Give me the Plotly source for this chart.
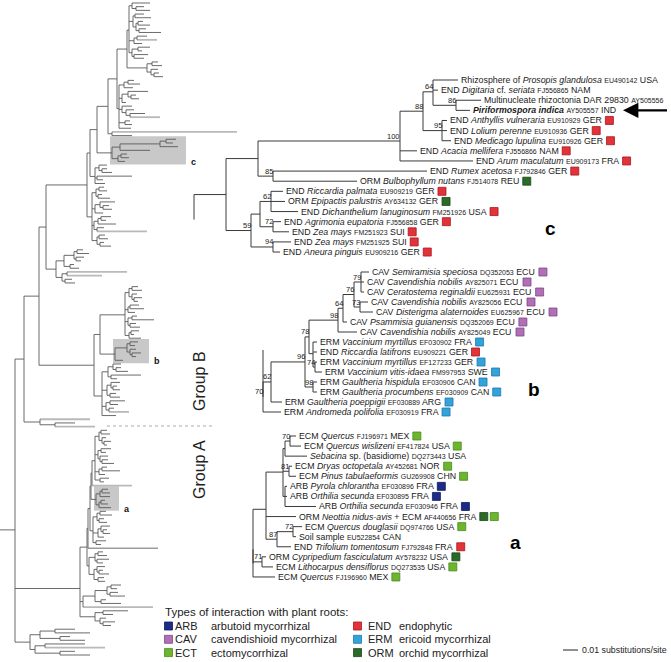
import plotly.graph_objects as go

FONT = "Liberation Sans, Arial, sans-serif"
W, H = 671, 662

# ---------------- DATA ----------------
# Overview tree pieces (Newick, branch lengths in tree units; tips named g = grey-highlighted branch)
ov_T1 = "((:18,(:8,:14):4):3,((:9,:16):2,((:5,:12):2,(:7,:22):3):3):4,((:10,g:20):3,:8):5,((:12,:4):6,(:14,:10):2):3)"
ov_T2 = "((:6,:10):5,(:7,(:5,:9):3):4)"
ov_T3 = "(((:6,:12):4,:9):5,((:20,(:5,:8):3):6,:4):3,(:10,(:8,(:15,g:30):4):4):3,(:5,:7):6,:12)"
ov_LONG = "(g:125,:20)"
ov_C = "((((:10,:7):6,:18):40,:30):8,((:6,:8):3,:7):6)C"
ov_M1 = "((:8,(:5,:10):3):4,(:35,:6):2,:10)"
ov_M2 = "(((:5,:8):3,(:4,:12):2):4,((:15,(:6,:9):3):5,:8):3,(((:10,:5):3,:18):4,(:7,g:50):3):2,((:6,:9):2,(:4,:11):3):5)"
ov_M3 = "((((:6,:12):3,(:8,:5):2):10,(:4,:9):6):8,((g:60,g:35):5,(:7,:10):3):6)"
ov_BL1 = "(((:6,:10):3,(:5,(:8,:4):2):3):4,((:9,:14):2,:7):3,((:5,:22):4,(:6,:10):2):3,((:8,:3):2,:12):4)"
ov_Bb = "(((:8,:5):3,(:6,(:9,:4):2):3):12,:8)B"
ov_BL2 = "(((:8,(:5,:12):3):5,(:30,:6):3):6,((:9,(:4,:7):2):4,(:6,:10):3):5,((:15,:8):4,(:5,g:20):3):4,:14)"
ov_BBAS = "(g:50,(:20,g:40):15)"
ov_A1 = "(((:6,:9):2,(:4,(:7,:3):2):3):4,((:10,:5):3,(:8,(:6,:12):2):2):3,((:5,:18):3,:6):4,(:9,:4):5)"
ov_Aa = "(((:6,:8):2,:10):4,((:4,:7):2,:12):3)A"
ov_A2 = "(((:6,:12):3,(:5,:8):2):4,((:9,(:4,:7):2):3,:6):5,(:10,:5):3)"
ov_A3 = "(((:5,:9):3,(:12,:6):2):6,((:8,(:4,:10):2):3,(:6,:7):4):5)"
ov_A4 = "(((:10,:6):4,(:8,:15):3):12,(:5,:20):6)"
ov_A5 = "((:25,:10):8,(:6,(:12,:8):3):5)"
ov_GAbas = "(((:20,:35):15,(:10,:25):20):10,((:40,g:60):10,(:15,:30):25):5)"

# Clade c (magnified), bootstrap support as internal labels
clade_c = ("(((((c1:25,c2:5,(c3:25,c4:14)86:23)64:10,(c5:5,c6:5,c7:9)95:19)88:23,c8:17,c9:73)100:142,"
           "(c10:154,c11:84)85:15):32,(((c12:12,c13:14,c14:27)62:11,(c15:8,c16:16)72:13):9,"
           "(c17:18,c18:7)94:22)59:25):32;")
c_kind = ["Rhizosphere of", "END", "", "", "END", "END", "END", "END", "END", "END", "ORM", "END",
          "ORM", "END", "END", "END", "END", "END"]
c_host = ["<i>Prosopis glandulosa</i>", "<i>Digitaria</i> cf. <i>seriata</i>",
          "Multinucleate rhizoctonia DAR 29830", "<b><i>Piriformospora indica</i></b>",
          "<i>Anthyllis vulneraria</i>", "<i>Lolium perenne</i>", "<i>Medicago lupulina</i>",
          "<i>Acacia mellifera</i>", "<i>Arum maculatum</i>", "<i>Rumex acetosa</i>",
          "<i>Bulbophyllum nutans</i>", "<i>Riccardia palmata</i>", "<i>Epipactis palustris</i>",
          "<i>Dichanthelium lanuginosum</i>", "<i>Agrimonia eupatoria</i>", "<i>Zea mays</i>",
          "<i>Zea mays</i>", "<i>Aneura pinguis</i>"]
c_acc = ["EU490142", "FJ556865", "AY505556", "AY505557", "EU910929", "EU910936", "EU910926",
         "FJ556866", "EU909173", "FJ792846", "FJ514078", "EU909219", "AY634132", "FM251926",
         "FJ556858", "FM251923", "FM251925", "EU909216"]
c_site = ["USA", "NAM", "", "IND", "GER", "GER", "GER", "NAM", "FRA", "GER", "REU", "GER", "GER",
          "USA", "GER", "SUI", "SUI", "GER"]
c_marks = ["", "", "", "", "END", "END", "END", "END", "END", "END", "ORM", "END", "ORM", "END",
           "END", "END", "END", "END"]

# Clade b
clade_b = ("((((((((b1:8,b2:3,b3:3)79:7,(b4:8,b5:13)73:6)76:11,b6:4)64:5,b7:19)98:29,"
           "(b8:4,b9:4,(b10:2,b11:7)74:2):4)78:4,(b12:4,b13:4)98:8)96:34,b14:11)62:8,b15:18)70;")
b_kind = ["CAV"] * 7 + ["ERM", "END", "ERM", "ERM", "ERM", "ERM", "ERM", "ERM"]
b_host = ["<i>Semiramisia speciosa</i>", "<i>Cavendishia nobilis</i>", "<i>Ceratostema reginaldii</i>",
          "<i>Cavendishia nobilis</i>", "<i>Disterigma alaternoides</i>", "<i>Psammisia guianensis</i>",
          "<i>Cavendishia nobilis</i>", "<i>Vaccinium myrtillus</i>", "<i>Riccardia latifrons</i>",
          "<i>Vaccinium myrtillus</i>", "<i>Vaccinium vitis-idaea</i>", "<i>Gaultheria hispidula</i>",
          "<i>Gaultheria procumbens</i>", "<i>Gaultheria poeppigii</i>", "<i>Andromeda polifolia</i>"]
b_acc = ["DQ352053", "AY825071", "EU625931", "AY825056", "EU625967", "DQ352069", "AY825049",
         "EF030902", "EU909221", "EF127233", "FM997953", "EF030906", "EF030909", "EF030889", "EF030919"]
b_site = ["ECU"] * 7 + ["FRA", "GER", "GER", "SWE", "CAN", "CAN", "ARG", "FRA"]
b_marks = ["CAV"] * 7 + ["ERM", "END", "ERM", "ERM", "ERM", "ERM", "ERM", "ERM"]

# Clade a
clade_a = ("(((((a1:6,a2:11)70:5,a3:22):2,(a4:3,a5:7)81:6,(a6:2,a7:2,a8:31):2):17,a9:30,"
           "((a10:9,a11:3)72:16,a12:14)87:11):13,(a13:4,a14:11)71:9,a15:22);")
a_kind = ["ECM", "ECM", "", "ECM", "ECM", "ARB", "ARB", "ARB", "ORM", "ECM", "", "END", "ORM", "ECM", "ECM"]
a_host = ["<i>Quercus</i>", "<i>Quercus wislizeni</i>", "<i>Sebacina</i> sp. (basidiome)",
          "<i>Dryas octopetala</i>", "<i>Pinus tabulaeformis</i>", "<i>Pyrola chlorantha</i>",
          "<i>Orthilia secunda</i>", "<i>Orthilia secunda</i>", "<i>Neottia nidus-avis</i> + ECM",
          "<i>Quercus douglasii</i>", "Soil sample", "<i>Trifolium tomentosum</i>",
          "<i>Cypripedium fasciculatum</i>", "<i>Lithocarpus densiflorus</i>", "<i>Quercus</i>"]
a_acc = ["FJ196971", "EF417824", "DQ273443", "AY452681", "GU269908", "EF030896", "EF030895",
         "EF030946", "AF440656", "DQ974766", "EU522854", "FJ792848", "AY578232", "DQ273535", "FJ196960"]
a_site = ["MEX", "USA", "USA", "NOR", "CHN", "FRA", "FRA", "FRA", "FRA", "USA", "CAN", "FRA", "USA", "USA", "MEX"]
a_marks = ["ECM", "ECM", "", "ECM", "ECM", "ARB", "ARB", "ARB", "ORM+ECM", "ECM", "", "END", "ORM", "ECM", "ECM"]

# Legend
legend_codes = ["ARB", "CAV", "ECT", "END", "ERM", "ORM"]
legend_desc = ["arbutoid mycorrhizal", "cavendishioid mycorrhizal", "ectomycorrhizal",
               "endophytic", "ericoid mycorrhizal", "orchid mycorrhizal"]
type_colors = {"ARB": "#1c2c86", "CAV": "#b06fb6", "ECT": "#6cb52e", "ECM": "#6cb52e",
               "END": "#e2333b", "ERM": "#33a4db", "ORM": "#2c6a28"}
edge_colors = {"ARB": "#101a5a", "CAV": "#7e4a84", "ECT": "#4a8a1c", "ECM": "#4a8a1c",
               "END": "#a8161d", "ERM": "#1f77a8", "ORM": "#1a4518"}
scale_label = "0.01 substitutions/site"

MAIN_FS, ACC_FS = 8.8, 7.0

# Helvetica / Arial advance widths (1/1000 em) used to place the colour squares after each label
_W = {" ": 278, "(": 333, ")": 333, "+": 584, "-": 333, ".": 278, ":": 278}
for _c in "0123456789":
    _W[_c] = 556
_W.update(dict(zip("ABCDEFGHIJKLMNOPQRSTUVWXYZ",
                   [667, 667, 722, 722, 667, 611, 778, 722, 278, 500, 667, 556, 833, 722, 778, 667, 778,
                    722, 667, 611, 722, 667, 944, 667, 667, 611])))
_W.update(dict(zip("abcdefghijklmnopqrstuvwxyz",
                   [556, 556, 500, 556, 556, 278, 556, 556, 222, 222, 500, 222, 833, 556, 556, 556, 556,
                    333, 500, 278, 556, 500, 722, 500, 500, 500])))


def text_w(s, fs):
    import re
    s = re.sub(r"<[^>]+>", "", s)
    return sum(_W.get(ch, 556) for ch in s) * fs / 1000.0


# ---------------- TREE HELPERS ----------------
def parse_newick(s):
    s = "".join(s.split()).rstrip(";")
    pos = 0

    def node():
        nonlocal pos
        n = {"children": [], "name": "", "len": 0.0}
        if s[pos] == "(":
            pos += 1
            while True:
                n["children"].append(node())
                if s[pos] == ",":
                    pos += 1
                    continue
                if s[pos] == ")":
                    pos += 1
                    break
        st = pos
        while pos < len(s) and s[pos] not in ",():":
            pos += 1
        n["name"] = s[st:pos]
        if pos < len(s) and s[pos] == ":":
            pos += 1
            st = pos
            while pos < len(s) and s[pos] not in ",()":
                pos += 1
            n["len"] = float(s[st:pos])
        return n

    return node()


def count_tips(n):
    return 1 if not n["children"] else sum(count_tips(c) for c in n["children"])


def layout(root, x0, k, y0, dy):
    tips = []

    def rec(n, px):
        n["x"] = px + n["len"] * k
        n["px"] = px
        if not n["children"]:
            n["y"] = y0 + len(tips) * dy
            tips.append(n)
        else:
            for c in n["children"]:
                rec(c, n["x"])
            n["y"] = sum(c["y"] for c in n["children"]) / len(n["children"])

    rec(root, x0)
    return tips


def walk(n):
    yield n
    for c in n["children"]:
        yield from walk(c)


def segs(root, grey_tips=False):
    main_x, main_y, g_x, g_y = [], [], [], []
    for n in walk(root):
        tx, ty = (g_x, g_y) if (grey_tips and not n["children"] and n["name"] == "g") else (main_x, main_y)
        if n["x"] > n["px"]:
            tx += [n["px"], n["x"], None]
            ty += [n["y"], n["y"], None]
        if n["children"]:
            ys = [c["y"] for c in n["children"]]
            main_x += [n["x"], n["x"], None]
            main_y += [min(ys), max(ys), None]
    return main_x, main_y, g_x, g_y


def find(root, name):
    for n in walk(root):
        if n["name"] == name:
            return n


def extent(n):
    xs = [m["x"] for m in walk(n)]
    ys = [m["y"] for m in walk(n)]
    return min(xs), max(xs), min(ys), max(ys)


# ---------------- BUILD OVERVIEW ----------------
n127 = f"({ov_T1}:2,{ov_T2}:20)"
n117 = f"({n127}:10,{ov_T3}:2)"
n108 = f"({n117}:9,{ov_LONG}:4)"
n97 = f"({n108}:11,{ov_C}:15)"
n90 = f"({n97}:7,{ov_M1}:5)"
n87 = f"({n90}:3,{ov_M2}:5)"
n46 = f"({n87}:41,{ov_M3}:10)"
blow = f"(({ov_BL1}:25,{ov_Bb}:15):6,{ov_BL2}:8)"
n39 = f"({n46}:7,{blow}:55)"
n24 = f"({n39}:15,{ov_BBAS}:16)"
g1 = f"({ov_A1}:3,g:40)"
g2 = f"({g1}:1,{ov_Aa}:5)"
g3 = f"({g2}:1,{ov_A2}:3)"
g4 = f"({g3}:2,:70)"
gtop = f"({g4}:1,{ov_A3}:2)"
gmain = f"({gtop}:7,({ov_A4}:12,g:70):3,{ov_A5}:15)"
overview_newick = f"({n24}:9,{gmain}:65,{ov_GAbas}:15):15;"

ov = parse_newick(overview_newick)
nt = count_tips(ov)
layout(ov, 0, 1.0, 3, (655 - 3) / (nt - 1))

fig = go.Figure()
shapes, annots = [], []

# highlight boxes in overview
for nm, lab in [("C", "c"), ("B", "b"), ("A", "a")]:
    nd = find(ov, nm)
    x0, x1, y0, y1 = extent(nd)
    shapes.append(dict(type="rect", xref="x", yref="y", x0=x0 - 2, x1=x1 + 8, y0=y0 - 3, y1=y1 + 3,
                       fillcolor="#c8c8c8", line=dict(width=0), layer="below"))
    annots.append(dict(x=x1 + 13, y=y1 + 1, text=f"<b>{lab}</b>", showarrow=False, xanchor="left",
                       yanchor="middle", font=dict(size=9, color="#111", family=FONT)))

mx, my, gx, gy = segs(ov, grey_tips=True)
fig.add_trace(go.Scatter(x=gx, y=gy, mode="lines", line=dict(color="#b9b9b9", width=1.8), hoverinfo="skip"))
fig.add_trace(go.Scatter(x=mx, y=my, mode="lines", line=dict(color="#5a5a5a", width=0.9), hoverinfo="skip"))

sq_x, sq_y, sq_c, sq_e = [], [], [], []


# ---------------- SUBTREES ----------------
def draw_clade(newick, x0, y0, dy, stem, kind, host, acc, site, marks):
    root = parse_newick(newick)
    tips = layout(root, x0, 1.0, y0, dy)
    mx, my, _, _ = segs(root)
    # stem linking the clade to the rest of the tree
    mx += [x0, x0, None]
    my += [root["y"], root["y"] + stem, None]
    fig.add_trace(go.Scatter(x=mx, y=my, mode="lines", line=dict(color="#3a3a3a", width=1), hoverinfo="skip"))
    for i, t in enumerate(tips):
        main = " ".join(p for p in [kind[i], host[i]] if p)
        tail = (" " + site[i]) if site[i] else ""
        txt = f"{main} <span style='font-size:{ACC_FS}px'>{acc[i]}</span>{tail}"
        lx = t["x"] + 2.5
        annots.append(dict(x=lx, y=t["y"], text=txt, showarrow=False, xanchor="left", yanchor="middle",
                           font=dict(size=MAIN_FS, color="#1a1a1a", family=FONT)))
        wid = text_w(main + " " + tail, MAIN_FS) + text_w(acc[i], ACC_FS)
        if marks[i]:
            for j, m in enumerate(marks[i].split("+")):
                sq_x.append(lx + wid + 8 + j * 10.5)
                sq_y.append(t["y"])
                sq_c.append(type_colors[m])
                sq_e.append(edge_colors[m])
    for n in walk(root):
        if n["children"] and n["name"]:
            annots.append(dict(x=n["x"] - 0.5, y=n["y"] - 0.5, text=n["name"], showarrow=False,
                               xanchor="right", yanchor="bottom",
                               font=dict(size=7.5, color="#1a1a1a", family=FONT)))
    return root, tips


rc, tc = draw_clade(clade_c, 194, 80, 10.12, 25, c_kind, c_host, c_acc, c_site, c_marks)
rb, tb = draw_clade(clade_b, 263, 272, 10.0, -47, b_kind, b_host, b_acc, b_site, b_marks)
ra, ta = draw_clade(clade_a, 253, 436, 10.07, 14, a_kind, a_host, a_acc, a_site, a_marks)

fig.add_trace(go.Scatter(x=sq_x, y=sq_y, mode="markers", hoverinfo="skip",
                         marker=dict(symbol="square", size=8, color=sq_c, line=dict(width=0.8, color=sq_e))))

# arrow pointing at Piriformospora indica
annots.append(dict(x=623, y=tc[3]["y"], ax=44, ay=0, text="", showarrow=True, arrowhead=2,
                   arrowsize=1.4, arrowwidth=2.2, arrowcolor="#000", xref="x", yref="y"))

# big clade letters
for lab, (x, y) in zip(["c", "b", "a"], [(550, 228), (534, 389), (515, 542)]):
    annots.append(dict(x=x, y=y, text=f"<b>{lab}</b>", showarrow=False, font=dict(size=19, color="#000", family=FONT)))

# group labels
for lab, y in [("Group B", 381), ("Group A", 470)]:
    annots.append(dict(x=199, y=y, text=lab, textangle=-90, showarrow=False,
                       font=dict(size=16, color="#222", family=FONT)))
shapes.append(dict(type="line", x0=107, x1=213, y0=426, y1=426, xref="x", yref="y",
                   line=dict(color="#aaaaaa", width=1, dash="dot")))

# legend
LEG_FS = 11
annots.append(dict(x=165, y=612, text="Types of interaction with plant roots:", showarrow=False,
                   xanchor="left", yanchor="middle", font=dict(size=LEG_FS + 0.5, color="#222", family=FONT)))
lx, ly, lc, le = [], [], [], []
for i, (code, desc) in enumerate(zip(legend_codes, legend_desc)):
    col, row = divmod(i, 3)
    sx = [168.5, 357.5][col]
    cx = [175, 368][col]
    dx = [211, 399][col]
    yy = 626 + row * 13.3
    lx.append(sx)
    ly.append(yy)
    lc.append(type_colors[code])
    le.append(edge_colors[code])
    annots.append(dict(x=cx, y=yy, text=code, showarrow=False, xanchor="left", yanchor="middle",
                       font=dict(size=LEG_FS, color="#222", family=FONT)))
    annots.append(dict(x=dx, y=yy, text=desc, showarrow=False, xanchor="left", yanchor="middle",
                       font=dict(size=LEG_FS, color="#222", family=FONT)))
fig.add_trace(go.Scatter(x=lx, y=ly, mode="markers", hoverinfo="skip",
                         marker=dict(symbol="square", size=8, color=lc, line=dict(width=0.8, color=le))))

# scale bar
shapes.append(dict(type="line", x0=563, x1=578, y0=650, y1=650, xref="x", yref="y",
                   line=dict(color="#222", width=1)))
annots.append(dict(x=582, y=650, text=scale_label, showarrow=False, xanchor="left", yanchor="middle",
                   font=dict(size=8.8, color="#222", family=FONT)))

for a in annots:
    a.setdefault("xref", "x")
    a.setdefault("yref", "y")
    a["borderpad"] = 0
    a["borderwidth"] = 0

fig.update_layout(width=W, height=H, margin=dict(l=0, r=0, t=0, b=0), showlegend=False,
                  paper_bgcolor="white", plot_bgcolor="white", shapes=shapes, annotations=annots,
                  xaxis=dict(range=[0, W], visible=False, fixedrange=True),
                  yaxis=dict(range=[H, 0], visible=False, fixedrange=True))
fig.write_html("out.html", config={"displayModeBar": False, "staticPlot": True},
               post_script="document.body.style.margin='0px';document.body.style.overflow='hidden';")
